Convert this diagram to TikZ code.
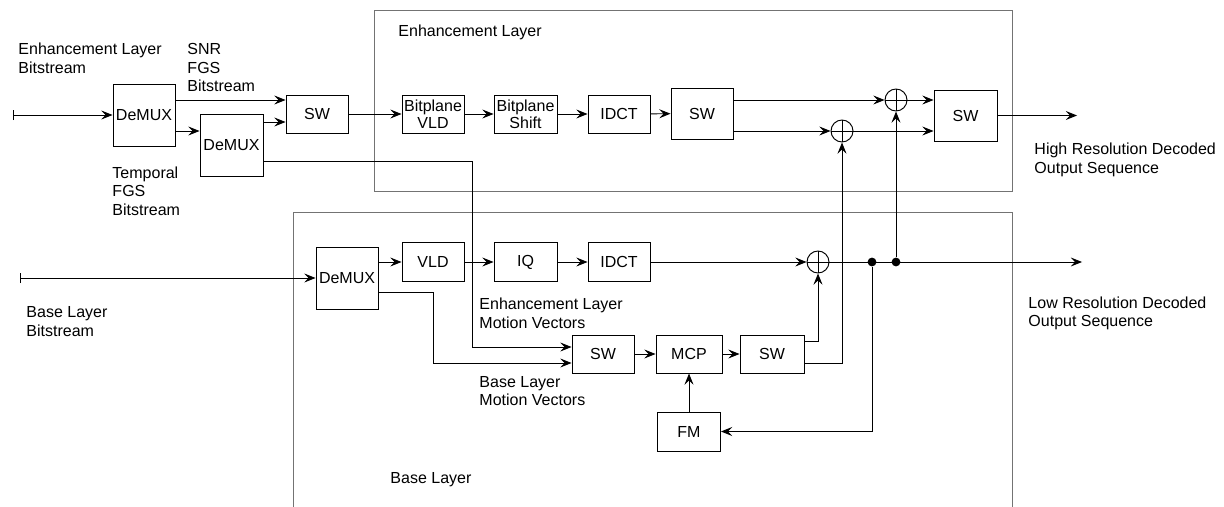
\documentclass[tikz,border=0pt]{standalone}
\usepackage{fontspec}
\setmainfont{Liberation Sans}
\usetikzlibrary{arrows.meta,positioning,calc}

\begin{document}
\begin{tikzpicture}[
  x=0.625pt, y=-0.625pt, line width=0.6pt,
  font=\fontsize{10}{11.6}\selectfont,
  >={Stealth[length=7pt,width=5.6pt,inset=2.6pt]},
  blk/.style 2 args={draw, minimum width=#1*0.625pt, minimum height=#2*0.625pt, inner sep=0pt,
                     align=center, font=\fontsize{10}{10.6}\selectfont},
  sum/.style={circle, draw, minimum size=22*0.625pt, inner sep=0pt,
              path picture={\draw (path picture bounding box.north) -- (path picture bounding box.south)
                                  (path picture bounding box.west) -- (path picture bounding box.east);}},
  tap/.style={circle, fill, inner sep=0pt, minimum size=5.5pt},
  frame/.style={draw=black!55},
  lbl/.style={align=left, anchor=west, inner sep=0pt},
  arr/.style={->},
  src/.style={{Bar[width=6.5pt]}->}
]
\useasboundingbox (0,0) rectangle (1224,507);
\draw[frame] (374,10) rectangle (1012,191);
\draw[frame] (293,507) |- (1012,212) -- (1012,507);
\node[lbl] at (398,32) {Enhancement Layer};
\node[lbl] at (390,480) {Base Layer};
\node[lbl] at (18,58.5) {Enhancement Layer\\Bitstream};
\node[lbl] at (187,67.5) {SNR\\FGS\\Bitstream};
\node[lbl] at (112,191) {Temporal\\FGS\\Bitstream};
\node[lbl] at (1034,160) {High Resolution Decoded\\Output Sequence};
\node[lbl] at (26,321.5) {Base Layer\\Bitstream};
\node[lbl] at (479,313) {Enhancement Layer\\Motion Vectors};
\node[lbl] at (479,391) {Base Layer\\Motion Vectors};
\node[lbl] at (1028,313.5) {Low Resolution Decoded\\Output Sequence};

\node[blk={62}{62}] (dmxe) at (144,115) {DeMUX};
\node[blk={63}{62}] (dmxt) at (231.5,145) {DeMUX};
\node[blk={62}{38}] (swin) at (317,114) {SW};
\node[blk={62}{38}] (bvld) at (433,114) {Bitplane\\VLD};
\node[blk={63}{38}] (bshift) at (525.5,114) {Bitplane\\Shift};
\node[blk={62}{38}] (idcte) at (619,114) {IDCT};
\node[blk={62}{51}] (swe) at (702,113.5) {SW};
\node[sum] (adda) at (896,100) {};
\node[sum] (addb) at (842,131) {};
\node[blk={63}{51}] (swout) at (965.5,115.5) {SW};
\node[blk={62}{62}] (dmxb) at (347,278) {DeMUX};
\node[blk={62}{39}] (vld) at (433,262) {VLD};
\node[blk={63}{39}] (iq) at (525.5,262) {IQ};
\node[blk={62}{39}] (idctb) at (619,262) {IDCT};
\node[sum] (addc) at (818,262) {};
\node[tap] (tapa) at (872,262) {};
\node[tap] (tapb) at (896,262) {};
\node[blk={62}{38}] (swmv) at (603,354) {SW};
\node[blk={66}{38}] (mcp) at (689,354) {MCP};
\node[blk={64}{38}] (swmc) at (772,354) {SW};
\node[blk={63}{39}] (fm) at (689,431.5) {FM};
\coordinate (ine) at (13,115);
\coordinate (inb) at (20,278);
\coordinate (outh) at (1077,115.5);
\coordinate (outl) at (1082,262);
\coordinate (elmv) at (472,161);
\coordinate (blmv) at (433,292);

\draw[src] (ine) -- (dmxe.west);
\draw[arr] (dmxe.east |- 0,100) -- (swin.west |- 0,100);
\draw[arr] (dmxe.east |- 0,131) -- (dmxt.west |- 0,131);
\draw[arr] (dmxt.east |- 0,122) -- (swin.west |- 0,122);
\draw[arr] (swin) -- (bvld);
\draw[arr] (bvld) -- (bshift);
\draw[arr] (bshift) -- (idcte);
\draw[arr] (idcte) -- (swe);
\draw[arr] (swe.east |- adda) -- (adda);
\draw[arr] (swe.east |- addb) -- (addb);
\draw[arr] (adda) -- (swout.west |- adda);
\draw[arr] (addb) -- (swout.west |- addb);
\draw[arr] (swout) -- (outh);
\draw[arr] (dmxt.east |- elmv) -- (elmv) |- (swmv.west |- 0,347);
\draw[src] (inb) -- (dmxb.west);
\draw[arr] (dmxb.east |- vld) -- (vld);
\draw[arr] (vld) -- (iq);
\draw[arr] (iq) -- (idctb);
\draw[arr] (idctb) -- (addc);
\draw[arr] (addc) -- (outl);
\draw[arr] (tapb) -- (adda);
\draw[arr] (dmxb.east |- blmv) -- (blmv) |- (swmv.west |- 0,363);
\draw[arr] (swmv) -- (mcp);
\draw[arr] (mcp) -- (swmc);
\draw[arr] (swmc.east |- 0,341) -| (addc);
\draw[arr] (swmc.east |- 0,363) -| (addb);
\draw[arr] (fm) -- (mcp);
\draw[arr] (tapa) |- (fm);
\end{tikzpicture}
\end{document}
